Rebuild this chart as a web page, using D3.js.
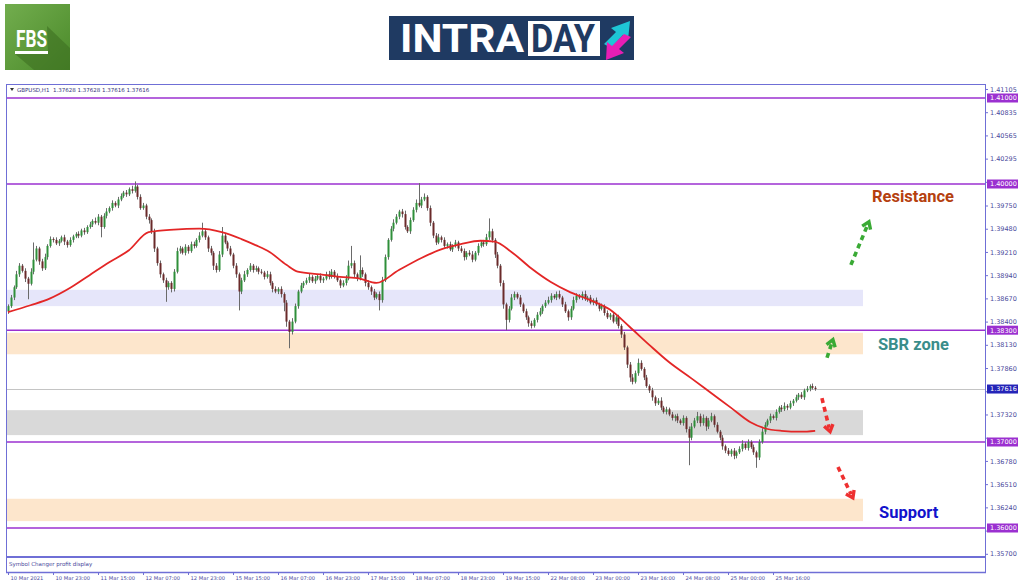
<!DOCTYPE html>
<html><head><meta charset="utf-8">
<script src="https://cdn.jsdelivr.net/npm/d3@7"></script>
<style>body{margin:0;background:#fff}svg{display:block}</style>
</head><body><svg id="c" width="1024" height="587"></svg>
<script>
// ---------------- DATA ----------------
const symbolHeader = "GBPUSD,H1  1.37628 1.37628 1.37616 1.37616";
const firstOpen = 1.3852;
const closes = [
1.3858,1.3868,1.3880,1.3895,1.3905,1.3899,1.3890,1.3884,1.3898,1.3912,1.3925,1.3910,1.3902,1.3915,1.3928,1.3936,
1.3935,1.3931,1.3934,1.3938,1.3933,1.3929,1.3935,1.3939,1.3942,1.3940,1.3946,1.3944,1.3950,1.3953,1.3957,1.3955,
1.3962,1.3950,1.3963,1.3968,1.3972,1.3978,1.3975,1.3982,1.3986,1.3990,1.3988,1.3994,1.3992,1.3997,1.3985,1.3972,
1.3975,1.3962,1.3958,1.3945,1.3925,1.3908,1.3895,1.3888,1.3880,1.3885,1.3878,1.3898,1.3922,1.3925,1.3920,1.3927,
1.3922,1.3930,1.3928,1.3935,1.3940,1.3945,1.3938,1.3925,1.3920,1.3905,1.3900,1.3918,1.3940,1.3932,1.3925,1.3918,
1.3905,1.3895,1.3875,1.3888,1.3895,1.3900,1.3905,1.3900,1.3902,1.3898,1.3897,1.3892,1.3895,1.3885,1.3878,1.3875,
1.3878,1.3872,1.3862,1.3840,1.3828,1.3840,1.3858,1.3875,1.3882,1.3885,1.3888,1.3892,1.3887,1.3890,1.3893,1.3888,
1.3890,1.3895,1.3892,1.3898,1.3893,1.3888,1.3882,1.3885,1.3890,1.3905,1.3908,1.3895,1.3890,1.3900,1.3895,1.3885,
1.3880,1.3875,1.3868,1.3872,1.3865,1.3888,1.3915,1.3935,1.3948,1.3955,1.3962,1.3968,1.3965,1.3950,1.3945,1.3958,
1.3970,1.3978,1.3975,1.3982,1.3985,1.3972,1.3955,1.3940,1.3932,1.3938,1.3935,1.3928,1.3930,1.3924,1.3928,1.3932,
1.3925,1.3922,1.3915,1.3920,1.3918,1.3912,1.3920,1.3928,1.3932,1.3930,1.3938,1.3945,1.3935,1.3918,1.3905,1.3885,
1.3860,1.3842,1.3855,1.3868,1.3872,1.3868,1.3860,1.3852,1.3845,1.3838,1.3835,1.3842,1.3848,1.3852,1.3858,1.3862,
1.3865,1.3870,1.3868,1.3872,1.3868,1.3860,1.3852,1.3845,1.3855,1.3865,1.3870,1.3868,1.3872,1.3866,1.3868,1.3862,
1.3865,1.3860,1.3855,1.3858,1.3850,1.3845,1.3848,1.3840,1.3845,1.3835,1.3825,1.3810,1.3790,1.3775,1.3770,1.3780,
1.3792,1.3785,1.3775,1.3765,1.3760,1.3752,1.3745,1.3748,1.3740,1.3735,1.3738,1.3732,1.3728,1.3730,1.3725,1.3722,
1.3728,1.3715,1.3705,1.3718,1.3725,1.3730,1.3722,1.3728,1.3718,1.3725,1.3730,1.3720,1.3712,1.3705,1.3695,1.3690,
1.3686,1.3690,1.3684,1.3688,1.3692,1.3698,1.3693,1.3700,1.3694,1.3688,1.3682,1.3700,1.3712,1.3720,1.3725,1.3730,
1.3728,1.3735,1.3740,1.3738,1.3742,1.3740,1.3745,1.3748,1.3752,1.3755,1.3752,1.3760,1.3762,1.3765,1.3763,1.37616
];
// wick lengths in pips
const wickUp = [
2,3,2,4,3,2,3,2,4,20,3,2,3,4,2,3, 2,3,2,2,3,2,3,2,2,3,2,3,2,3,2,4,
3,2,3,4,2,3,2,3,3,2,3,2,4,6,2,3, 3,2,3,2,3,2,3,2,3,2,2,3,4,3,2,3,
2,3,3,2,4,10,3,2,3,2,3,4,10,3,2,3, 2,3,2,3,4,2,3,2,3,2,3,2,4,3,2,3,
2,3,2,3,2,4,3,2,3,2,3,4,2,3,2,3, 2,3,4,3,2,3,2,3,4,6,20,3,2,17,3,2,
3,2,3,2,3,4,3,2,3,4,3,2,3,4,2,3, 3,4,23,3,4,2,3,2,3,4,2,3,2,3,2,3,
2,3,3,2,3,4,2,3,2,3,4,15,3,2,3,2, 3,2,3,4,3,2,3,2,3,2,3,2,3,4,2,3,
4,3,2,3,4,2,3,2,3,4,3,2,3,4,2,3, 2,3,2,3,2,3,2,3,2,3,2,3,2,3,4,3,
5,3,2,3,2,3,2,3,4,2,3,2,3,2,3,2, 3,2,3,4,3,5,3,4,2,3,4,2,3,2,3,2,
3,2,3,2,3,4,2,3,2,3,2,3,4,3,2,3, 2,3,2,3,4,2,3,2,3,2,3,2,3,2,3,2
];
const wickDn = [
3,2,3,2,3,2,4,18,2,3,2,4,3,2,3,2, 3,2,3,2,4,3,2,3,2,3,2,3,2,2,3,2,
3,12,2,3,2,3,2,3,2,2,3,2,3,2,3,2, 2,3,4,3,4,3,4,3,17,3,4,3,2,3,2,3,
3,2,3,2,3,2,3,4,3,5,3,2,3,2,3,2, 3,4,22,3,2,3,2,3,2,3,2,3,2,3,4,2,
3,4,10,6,19,3,2,3,2,3,2,3,2,3,2,3, 3,2,3,2,3,2,3,2,3,2,3,4,3,2,3,4,
3,4,3,2,12,3,2,3,2,3,2,3,4,3,2,3, 2,3,2,3,2,3,4,3,3,2,3,2,3,2,3,2,
3,2,4,3,2,3,2,3,2,3,2,3,3,4,3,4, 5,12,3,2,3,2,3,2,3,4,3,2,3,2,3,2,
2,3,2,3,2,3,2,4,3,2,3,2,3,2,3,2, 3,2,3,2,3,2,3,2,3,3,4,3,4,5,3,2,
3,2,3,2,3,4,3,2,3,2,3,2,3,4,3,2, 3,4,32,3,2,3,4,3,5,3,2,3,2,3,4,3,
2,3,4,3,2,3,2,3,2,3,12,3,2,3,2,3, 2,3,2,3,2,3,2,3,2,3,2,3,2,3,2,2
];
// moving average (red line) read at sample bars
const maBars = [0,8,15,22,29,36,43,50,59,68,76,83,88,93,99,103,111,118,125,131,139,147,154,161,168,173,179,186,193,200,207,214,221,228,235,243,250,257,264,269,275,282,287];
const maValues = [1.3851,1.3859,1.3867,1.3879,1.3894,1.3909,1.3923,1.3944,1.3947,1.3948,1.3944,1.3936,1.3929,1.3921,1.3906,1.3898,1.3895,1.3892,1.3890,1.3885,1.3900,1.3914,1.3924,1.3930,1.3934,1.3933,1.3921,1.3902,1.3886,1.3874,1.3865,1.3854,1.3834,1.3813,1.3793,1.3774,1.3757,1.3740,1.3723,1.3716,1.3713,1.3712,1.3713];
const timeLabels = ["10 Mar 2021","10 Mar 23:00","11 Mar 15:00","12 Mar 07:00","12 Mar 23:00","15 Mar 15:00","16 Mar 07:00","16 Mar 23:00","17 Mar 15:00","18 Mar 07:00","18 Mar 23:00","19 Mar 15:00","22 Mar 08:00","23 Mar 00:00","23 Mar 16:00","24 Mar 08:00","25 Mar 00:00","25 Mar 16:00"];
const timeTickBars = [0,16,32,48,64,80,96,112,128,144,160,176,192,208,224,240,256,272];
// labelled price ticks (others on the grid are hidden behind level boxes)
const priceTicks = [1.41105,1.40835,1.40565,1.40295,1.39750,1.39480,1.39210,1.38940,1.38670,1.38400,1.38130,1.37860,1.37320,1.36780,1.36510,1.36240,1.35700];
const hiddenTicks = [1.40025,1.37590,1.37050,1.35970];
const levelLines = [1.41000,1.40000,1.38300,1.37000,1.36000];
const currentPrice = 1.37616;
const zoneTops    = [1.3877,1.3827,1.3737,1.3634];
const zoneBottoms = [1.3858,1.3802,1.3708,1.3608];
const zoneEndBar = 304;
const arrowStartBar   = [299.7,291.2,289.4,295.1];
const arrowStartPrice = [1.3906,1.3798,1.3751,1.3671];
const arrowEndBar     = [306.1,293.3,292.3,300.4];
const arrowEndPrice   = [1.3956,1.3819,1.3712,1.3635];
const noteTexts  = ["Resistance","SBR zone","Support"];
const noteBars   = [307.2,309.3,309.7];
const notePrices = [1.3986,1.3814,1.3619];

// ---------------- STYLE ----------------
const zoneColors = ["#e6e6fa","#fde6cc","#d9d9d9","#fde6cc"];
const arrowColors = ["#3aaa35","#3aaa35","#ee3030","#ee3030"];
const noteColors = ["#b5400f","#3a8d8a","#1212cc"];
const frameColor = "#6f6fd6";
const axisText = "#4a4a9c";
const levelColor = "#9b30d0";

const svg = d3.select("#c");
const L = 6, R = 985, T = 84, B = 556;
const x = d3.scaleLinear().domain([0,16]).range([8,53]);
const y = d3.scaleLinear().domain([1.40,1.41]).range([184,98]);

svg.append("rect").attr("width",1024).attr("height",587).attr("fill","#fff");

// ---------- logos ----------
const defs = svg.append("defs");
const g1 = defs.append("linearGradient").attr("id","fbsg").attr("x1","0").attr("y1","0").attr("x2","1").attr("y2","1");
g1.append("stop").attr("offset","0").attr("stop-color","#72ad4e");
g1.append("stop").attr("offset","1").attr("stop-color","#4b8a2a");
const fbs = svg.append("g");
fbs.append("rect").attr("x",5).attr("y",4).attr("width",65).attr("height",66).attr("fill","url(#fbsg)");
fbs.append("path").attr("d","M47,26 L70,48 L70,70 L34,70 L15,54 L48,54 Z").attr("fill","#3d6f22").attr("opacity",0.6);
fbs.append("text").attr("x",16).attr("y",47).attr("font-family","Roboto, 'Liberation Sans', sans-serif")
  .attr("font-weight","bold").attr("font-size",24).attr("fill","#fff").attr("textLength",31).attr("lengthAdjust","spacingAndGlyphs").text("FBS");
fbs.append("rect").attr("x",15).attr("y",51).attr("width",33).attr("height",3).attr("fill","#fff");

const intr = svg.append("g");
intr.append("rect").attr("x",389).attr("y",16).attr("width",245).attr("height",44).attr("fill","#1f3a62");
intr.append("text").attr("x",400).attr("y",52).attr("font-family","Roboto, 'Liberation Sans', sans-serif")
  .attr("font-weight","bold").attr("font-size",38).attr("fill","#fff").attr("textLength",124).attr("lengthAdjust","spacingAndGlyphs").text("INTRA");
intr.append("rect").attr("x",528).attr("y",21).attr("width",72).attr("height",35).attr("fill","#fff");
intr.append("text").attr("x",531).attr("y",52).attr("font-family","Roboto, 'Liberation Sans', sans-serif")
  .attr("font-weight","bold").attr("font-size",38).attr("fill","#1f3a62").attr("textLength",64).attr("lengthAdjust","spacingAndGlyphs").text("DAY");
intr.append("path").attr("d","M604,44 L616,32 L611,28 L630,21 L628,40 L623,35 L611,48 Z").attr("fill","#1ec6d6");
intr.append("path").attr("d","M631,37 L619,49 L624,53 L606,60 L607,42 L612,46 L624,34 Z").attr("fill","#e81eb4");

// ---------- chart ----------
const clip = defs.append("clipPath").attr("id","pc");
clip.append("rect").attr("x",L).attr("y",T).attr("width",R-L).attr("height",B-T);
const plot = svg.append("g").attr("clip-path","url(#pc)");

// zones
plot.selectAll("rect.zone").data(zoneTops).enter().append("rect").attr("class","zone")
  .attr("x",L+1).attr("y",d=>y(d)).attr("width",(d)=>x(zoneEndBar)-L-1)
  .attr("height",(d,i)=>y(zoneBottoms[i])-y(d)).attr("fill",(d,i)=>zoneColors[i]);

// current price line
plot.append("line").attr("x1",L).attr("x2",R).attr("y1",Math.round(y(currentPrice))+0.5).attr("y2",Math.round(y(currentPrice))+0.5)
  .attr("stroke","#c4c4c4").attr("stroke-width",1);

// level lines
plot.selectAll("line.lvl").data(levelLines).enter().append("line").attr("class","lvl")
  .attr("x1",L).attr("x2",R).attr("y1",d=>y(d)).attr("y2",d=>y(d))
  .attr("stroke",levelColor).attr("stroke-width",1.6);

// candles
const candles = closes.map((c,i)=>{
  const o = i ? closes[i-1] : firstOpen;
  return {i,o,c,h:Math.max(o,c)+wickUp[i]/10000,l:Math.min(o,c)-wickDn[i]/10000};
});
const cg = plot.append("g");
cg.selectAll("line").data(candles).enter().append("line")
  .attr("x1",d=>Math.round(x(d.i))+0.5).attr("x2",d=>Math.round(x(d.i))+0.5)
  .attr("y1",d=>y(d.h)).attr("y2",d=>y(d.l)).attr("stroke","#6a6a6a").attr("stroke-width",1);
cg.selectAll("rect").data(candles).enter().append("rect")
  .attr("x",d=>Math.round(x(d.i))-0.5).attr("width",2)
  .attr("y",d=>Math.min(y(d.o),y(d.c)))
  .attr("height",d=>Math.max(1,Math.abs(y(d.o)-y(d.c))))
  .attr("fill",d=>d.c>=d.o?"#2f8f3a":"#6a2a2a");

// moving average
const maLine = d3.line().x(d=>x(d[0])).y(d=>y(d[1])).curve(d3.curveMonotoneX);
plot.append("path").datum(maBars.map((b,i)=>[b,maValues[i]])).attr("d",maLine)
  .attr("fill","none").attr("stroke","#e32626").attr("stroke-width",1.8);

// arrows
arrowStartBar.forEach((sb,i)=>{
  const x0=x(sb), y0=y(arrowStartPrice[i]), x1=x(arrowEndBar[i]), y1=y(arrowEndPrice[i]);
  const ang=Math.atan2(y1-y0,x1-x0);
  const ex=x1-Math.cos(ang)*4, ey=y1-Math.sin(ang)*4;
  svg.append("line").attr("x1",x0).attr("y1",y0).attr("x2",ex).attr("y2",ey)
    .attr("stroke",arrowColors[i]).attr("stroke-width",3.6).attr("stroke-dasharray","5,4");
  const hl=8, a=0.6;
  const w1=[x1-hl*Math.cos(ang-a), y1-hl*Math.sin(ang-a)], w2=[x1-hl*Math.cos(ang+a), y1-hl*Math.sin(ang+a)];
  svg.append("path").attr("d",`M${w1[0]},${w1[1]} L${x1},${y1} L${w2[0]},${w2[1]}`)
    .attr("fill","none").attr("stroke",arrowColors[i]).attr("stroke-width",3.4).attr("stroke-linejoin","miter");
});

// notes
noteTexts.forEach((t,i)=>{
  svg.append("text").attr("x",x(noteBars[i])).attr("y",y(notePrices[i])+6)
    .attr("font-family","Roboto, 'Liberation Sans', sans-serif").attr("font-weight","bold").attr("font-size",16.5)
    .attr("fill",noteColors[i]).text(t);
});

// frame
const fr = svg.append("g").attr("stroke",frameColor).attr("fill","none");
fr.append("line").attr("x1",L).attr("x2",R).attr("y1",T+0.5).attr("y2",T+0.5);
fr.append("line").attr("x1",L+0.5).attr("x2",L+0.5).attr("y1",T).attr("y2",572);
fr.append("line").attr("x1",L).attr("x2",R).attr("y1",B+1).attr("y2",B+1).attr("stroke-width",2);
fr.append("line").attr("x1",R+0.5).attr("x2",R+0.5).attr("y1",T).attr("y2",572);

// header
svg.append("path").attr("d","M10,88 L14,88 L12,91 Z").attr("fill","#333");
svg.append("text").attr("x",17).attr("y",91.5).attr("font-family","'DejaVu Sans', sans-serif").attr("font-size",5.5)
  .attr("fill","#33337a").attr("xml:space","preserve").text(symbolHeader);
svg.append("text").attr("x",9).attr("y",566).attr("font-family","'DejaVu Sans', sans-serif").attr("font-size",5.5)
  .attr("fill",axisText).text("Symbol Changer profit display");

// right axis
const ya = svg.append("g").attr("transform",`translate(${R},0)`)
  .call(d3.axisRight(y).tickValues(priceTicks).tickSize(3).tickFormat(d3.format(".5f")));
ya.select(".domain").remove();
ya.selectAll("line").attr("stroke",frameColor);
ya.selectAll("text").attr("font-family","'DejaVu Sans', sans-serif").attr("font-size",6.5).attr("fill",axisText).attr("x",5);
svg.append("g").attr("transform",`translate(${R},0)`)
  .call(d3.axisRight(y).tickValues(hiddenTicks).tickSize(3).tickFormat(""))
  .call(g=>{g.select(".domain").remove(); g.selectAll("line").attr("stroke",frameColor);});

// highlighted level labels
const hl = svg.append("g");
levelLines.concat([currentPrice]).forEach((p,i)=>{
  const yy=y(p), isCur = i===levelLines.length;
  hl.append("rect").attr("x",R+2).attr("y",yy-4.5).attr("width",31).attr("height",9).attr("fill",isCur?"#2424b8":"#9b30d0");
  hl.append("text").attr("x",R+5).attr("y",yy+2.3).attr("font-family","'DejaVu Sans', sans-serif").attr("font-size",6.5)
    .attr("fill","#fff").text(d3.format(".5f")(p));
});

// bottom axis
const xa = svg.append("g").attr("transform","translate(0,572)")
  .call(d3.axisBottom(x).tickValues(timeTickBars).tickSize(3).tickFormat((d,i)=>timeLabels[i]));
xa.select(".domain").attr("d",`M${L},0.5H${R+1}`).attr("stroke",frameColor).attr("stroke-width",1.5);
xa.selectAll("line").attr("stroke",frameColor);
xa.selectAll("text").attr("font-family","'DejaVu Sans', sans-serif").attr("font-size",5.2).attr("fill",axisText)
  .attr("text-anchor","start").attr("x",2).attr("y",4).attr("dy","0.71em");
</script></body></html>
